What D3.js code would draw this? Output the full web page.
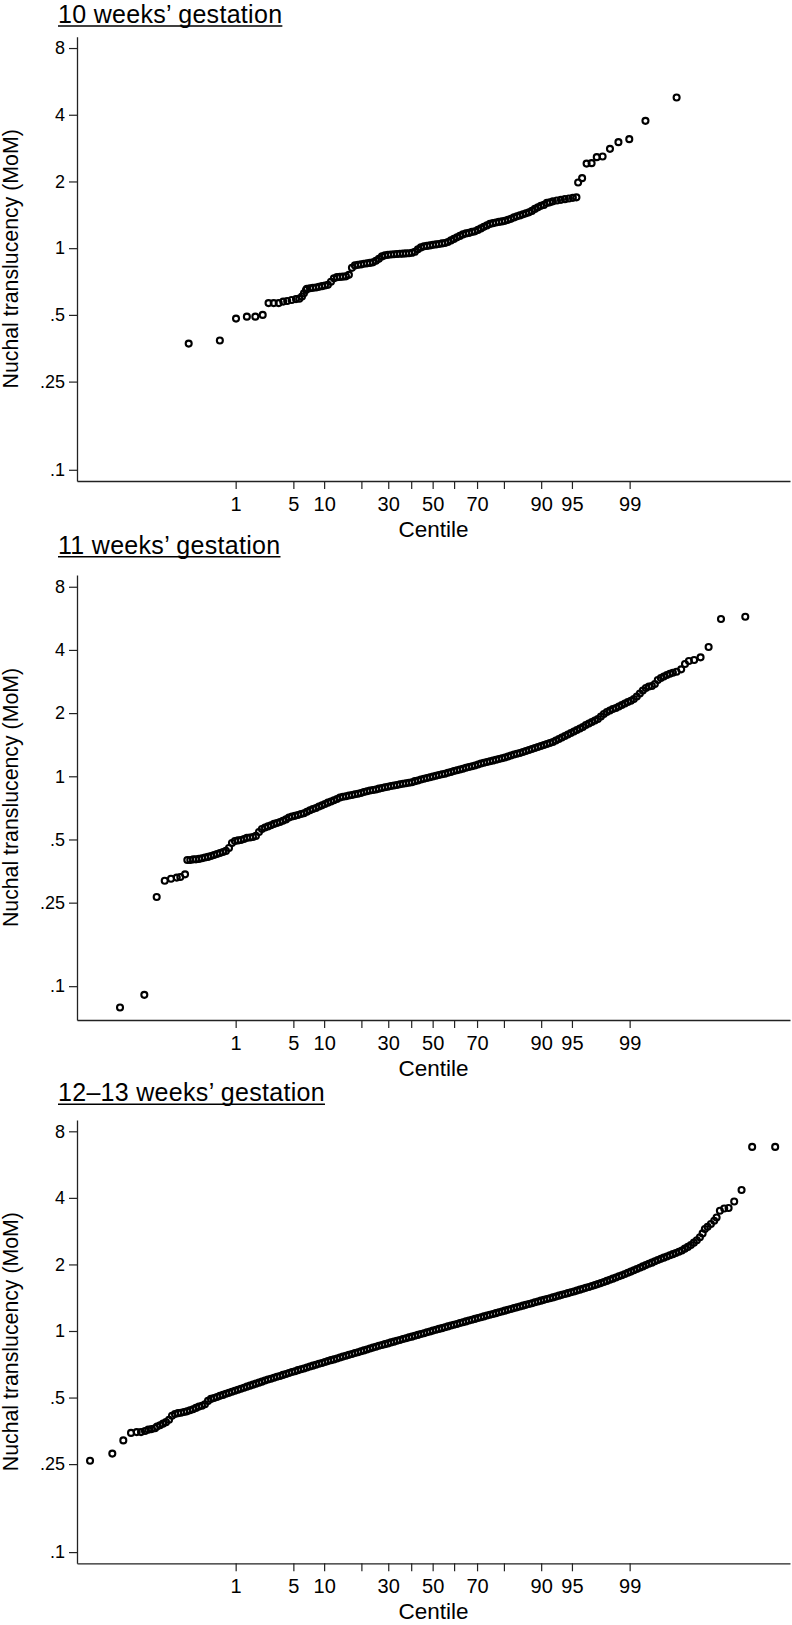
<!DOCTYPE html>
<html><head><meta charset="utf-8">
<script src="https://cdn.jsdelivr.net/npm/d3@7"></script>
<style>
body{margin:0;background:#fff}
svg{display:block}
text{font-family:"Liberation Sans",Arial,Helvetica,sans-serif;fill:#000}
</style>
</head><body>
<svg id="chart" width="792" height="1625"></svg>
<script>
// ---------- data ----------
const panelTitles = ["10 weeks\u2019 gestation", "11 weeks\u2019 gestation", "12\u201313 weeks\u2019 gestation"];
const centileTicks = [1, 5, 10, 20, 30, 40, 50, 60, 70, 80, 90, 95, 99];
const centileLabels = ["1", "5", "10", "", "30", "", "50", "", "70", "", "90", "95", "99"];
const momTicks = [0.1, 0.25, 0.5, 1, 2, 4, 8];
const momLabels = [".1", ".25", ".5", "1", "2", "4", "8"];

// 10 weeks: normal score (x) and NT MoM (y)
const wk10Score = [-2.881,-2.513,-2.322,-2.194,-2.094,-2.007,-1.938,-1.877,-1.818,-1.765,-1.718,-1.665,-1.614,-1.575,-1.543,-1.520,-1.496,
-1.485,-1.449,-1.414,
-1.378,-1.343,-1.307,-1.272,-1.237,-1.201,-1.166,-1.130,-1.095,-1.060,
-1.024,-0.989,-0.953,-0.918,-0.882,-0.847,-0.812,-0.776,-0.741,-0.705,
-0.670,-0.635,-0.599,-0.564,-0.528,-0.493,-0.457,-0.422,-0.387,-0.351,
-0.316,-0.280,-0.245,-0.210,-0.174,-0.139,-0.103,-0.068,-0.032,0.003,
0.039,0.074,0.110,0.145,0.180,0.216,0.251,0.287,0.322,0.357,
0.393,0.428,0.464,0.499,0.535,0.570,0.605,0.641,0.676,0.712,
0.747,0.782,0.818,0.853,0.889,0.924,0.960,0.995,1.030,1.066,
1.101,1.137,1.172,1.207,1.243,1.278,1.314,1.349,1.384,1.420,
1.468,1.515,1.562,1.609,1.656,1.698,1.718,1.765,1.818,1.877,1.938,2.007,2.094,2.194,2.322,2.513,2.881];
const wk10MoM = [0.371,0.383,0.481,0.491,0.491,0.500,0.565,0.565,0.565,0.574,0.578,0.584,0.589,0.592,0.605,0.626,0.648,
0.655,0.659,0.662,0.665,0.669,0.674,0.678,0.683,0.705,0.731,
0.740,0.742,0.744,0.746,0.758,0.815,0.836,0.841,0.845,0.850,
0.854,0.858,0.863,0.877,0.895,0.918,0.928,0.933,0.937,0.939,
0.941,0.943,0.945,0.947,0.949,0.953,0.963,0.988,1.008,1.019,
1.024,1.029,1.035,1.040,1.045,1.051,1.056,1.067,1.084,1.101,
1.119,1.136,1.154,1.166,1.172,1.184,1.191,1.209,1.228,1.248,
1.267,1.287,1.297,1.305,1.314,1.321,1.328,1.342,1.356,1.377,
1.392,1.406,1.421,1.436,1.451,1.473,1.504,1.528,1.552,1.568,
1.601,1.610,1.627,
1.640,1.652,1.664,1.675,1.687,1.696,1.978,2.070,2.408,2.419,2.575,2.591,2.806,3.009,3.104,3.755,4.783];

// 11 weeks
const wk11Score = [-3.692,-3.405,-3.259,-3.164,-3.090,-3.022,-2.980,-2.924,-2.897,-2.862,-2.826,
-2.795,-2.760,-2.724,-2.689,-2.653,-2.618,-2.582,-2.547,-2.512,-2.476,
-2.441,-2.405,-2.370,-2.335,-2.299,-2.264,-2.228,-2.193,-2.157,-2.122,
-2.087,-2.051,-2.016,-1.980,-1.945,-1.910,-1.874,-1.839,-1.803,-1.768,
-1.732,-1.697,-1.662,-1.626,-1.591,-1.555,-1.520,-1.485,-1.449,-1.414,
-1.378,-1.343,-1.307,-1.272,-1.237,-1.201,-1.166,-1.130,-1.095,-1.060,
-1.024,-0.989,-0.953,-0.918,-0.882,-0.847,-0.812,-0.776,-0.741,-0.705,
-0.670,-0.635,-0.599,-0.564,-0.528,-0.493,-0.457,-0.422,-0.387,-0.351,
-0.316,-0.280,-0.245,-0.210,-0.174,-0.139,-0.103,-0.068,-0.032,0.003,
0.039,0.074,0.110,0.145,0.180,0.216,0.251,0.287,0.322,0.357,
0.393,0.428,0.464,0.499,0.535,0.570,0.605,0.641,0.676,0.712,
0.747,0.782,0.818,0.853,0.889,0.924,0.960,0.995,1.030,1.066,
1.101,1.137,1.172,1.207,1.243,1.278,1.314,1.349,1.384,1.420,
1.455,1.491,1.526,1.562,1.597,1.632,1.668,1.703,1.739,1.774,
1.809,1.845,1.880,1.916,1.951,1.987,2.022,2.057,2.093,2.128,
2.164,2.199,2.234,2.270,2.305,2.341,2.376,2.411,2.447,2.482,
2.518,2.553,2.589,2.624,2.659,2.695,2.730,2.766,
2.801,2.837,2.880,2.935,2.980,3.026,3.088,3.164,3.259,3.405,3.692];
const wk11MoM = [0.0791,0.0909,0.266,0.318,0.325,0.329,0.331,0.341,0.399,0.399,0.402,
0.402,0.404,0.407,0.410,0.413,0.417,0.422,0.426,0.431,0.436,
0.441,0.455,0.481,0.492,0.495,0.497,0.503,0.509,0.511,0.514,
0.520,0.543,0.561,0.570,0.577,0.584,0.593,0.599,0.606,0.614,
0.623,0.636,0.643,0.648,0.654,0.661,0.667,0.678,0.689,0.699,
0.706,0.718,0.727,0.738,0.749,0.759,0.769,0.780,0.792,0.799,
0.804,0.810,0.815,0.821,0.826,0.833,0.842,0.848,0.856,0.860,
0.865,0.873,0.880,0.886,0.892,0.899,0.904,0.909,0.916,0.922,
0.927,0.931,0.937,0.948,0.955,0.965,0.973,0.982,0.989,0.998,
1.006,1.014,1.022,1.029,1.040,1.048,1.060,1.068,1.078,1.087,
1.098,1.107,1.116,1.126,1.138,1.151,1.161,1.170,1.179,1.189,
1.198,1.209,1.218,1.229,1.242,1.256,1.270,1.281,1.291,1.305,
1.320,1.334,1.349,1.364,1.379,1.394,1.409,1.425,1.441,1.457,
1.481,1.505,1.530,1.556,1.581,1.608,1.635,1.662,1.689,1.717,
1.755,1.784,1.814,1.844,1.875,1.927,1.981,2.024,2.058,2.092,
2.115,2.150,2.186,2.222,2.259,2.289,2.334,2.399,2.479,2.563,
2.633,2.678,2.692,2.751,2.876,2.938,2.988,3.038,
3.078,3.112,3.149,3.233,3.427,3.541,3.580,3.688,4.130,5.614,5.756];

// 12-13 weeks
const wk1213Score = [-4.046,-3.783,-3.653,-3.562,-3.495,-3.444,-3.397,-3.358,-3.318,-3.279,
-3.255,-3.220,-3.184,-3.149,-3.113,-3.078,-3.043,-3.007,-2.972,-2.936,-2.901,-2.866,-2.830,
-2.795,-2.760,-2.724,-2.689,-2.653,-2.618,-2.582,-2.547,-2.512,-2.476,
-2.441,-2.405,-2.370,-2.335,-2.299,-2.264,-2.228,-2.193,-2.157,-2.122,
-2.087,-2.051,-2.016,-1.980,-1.945,-1.910,-1.874,-1.839,-1.803,-1.768,
-1.732,-1.697,-1.662,-1.626,-1.591,-1.555,-1.520,-1.485,-1.449,-1.414,
-1.378,-1.343,-1.307,-1.272,-1.237,-1.201,-1.166,-1.130,-1.095,-1.060,
-1.024,-0.989,-0.953,-0.918,-0.882,-0.847,-0.812,-0.776,-0.741,-0.705,
-0.670,-0.635,-0.599,-0.564,-0.528,-0.493,-0.457,-0.422,-0.387,-0.351,
-0.316,-0.280,-0.245,-0.210,-0.174,-0.139,-0.103,-0.068,-0.032,0.003,
0.039,0.074,0.110,0.145,0.180,0.216,0.251,0.287,0.322,0.357,
0.393,0.428,0.464,0.499,0.535,0.570,0.605,0.641,0.676,0.712,
0.747,0.782,0.818,0.853,0.889,0.924,0.960,0.995,1.030,1.066,
1.101,1.137,1.172,1.207,1.243,1.278,1.314,1.349,1.384,1.420,
1.455,1.491,1.526,1.562,1.597,1.632,1.668,1.703,1.739,1.774,
1.809,1.845,1.880,1.916,1.951,1.987,2.022,2.057,2.093,2.128,
2.164,2.199,2.234,2.270,2.305,2.341,2.376,2.411,2.447,2.482,
2.518,2.553,2.589,2.624,2.659,2.695,2.730,2.766,
2.801,2.837,2.872,2.908,2.943,2.978,3.014,3.049,3.085,3.120,3.156,
3.188,3.215,3.247,3.286,3.325,3.353,3.392,3.443,3.495,3.561,3.648,3.773,4.045];
const wk1213MoM = [0.259,0.279,0.320,0.346,0.349,0.349,0.353,0.358,0.360,0.363,
0.370,0.375,0.381,0.387,0.397,0.414,0.421,0.425,0.427,0.430,0.433,0.438,0.443,0.449,0.455,0.459,0.466,0.483,
0.493,0.498,0.503,0.509,0.514,0.520,0.525,0.531,0.537,0.542,
0.548,0.554,0.560,0.566,0.572,0.578,0.584,0.590,0.597,0.603,
0.608,0.615,0.621,0.626,0.633,0.639,0.646,0.652,0.658,0.665,
0.671,0.677,0.684,0.691,0.697,0.704,0.711,0.717,0.724,0.731,
0.738,0.744,0.751,0.759,0.766,0.773,0.780,0.787,0.795,0.802,
0.810,0.817,0.825,0.833,0.841,0.849,0.857,0.864,0.872,0.879,
0.888,0.895,0.903,0.911,0.920,0.927,0.936,0.943,0.952,0.960,
0.969,0.977,0.987,0.995,1.004,1.013,1.022,1.030,1.040,1.049,
1.059,1.067,1.076,1.087,1.096,1.105,1.115,1.124,1.134,1.145,
1.154,1.164,1.175,1.184,1.194,1.204,1.216,1.226,1.236,1.248,
1.258,1.269,1.279,1.291,1.302,1.313,1.324,1.336,1.348,1.359,
1.372,1.383,1.395,1.407,1.419,1.431,1.445,1.457,1.470,1.483,
1.497,1.509,1.523,1.538,1.552,1.567,1.581,1.598,1.613,1.630,
1.647,1.666,1.685,1.704,1.725,1.746,1.768,1.788,1.810,1.833,
1.856,1.881,1.907,1.933,1.959,1.986,2.013,2.038,2.066,2.094,
2.120,2.146,2.173,2.201,2.226,2.252,2.282,2.313,2.357,2.401,
2.449,2.509,2.574,2.656,
2.763,2.892,2.962,3.046,3.154,3.263,3.499,3.580,3.600,3.853,4.340,6.800,6.800];

// ---------- helpers ----------
function probit(p){
  const a=[-3.969683028665376e+01,2.209460984245205e+02,-2.759285104469687e+02,1.383577518672690e+02,-3.066479806614716e+01,2.506628277459239e+00];
  const b=[-5.447609879822406e+01,1.615858368580409e+02,-1.556989798598866e+02,6.680131188771972e+01,-1.328068155288572e+01];
  const c=[-7.784894002430293e-03,-3.223964580411365e-01,-2.400758277161838e+00,-2.549732539343734e+00,4.374664141464968e+00,2.938163982698783e+00];
  const d=[7.784695709041462e-03,3.224671290700398e-01,2.445134137142996e+00,3.754408661907416e+00];
  const pl=0.02425; let q,r;
  if(p<pl){q=Math.sqrt(-2*Math.log(p));return (((((c[0]*q+c[1])*q+c[2])*q+c[3])*q+c[4])*q+c[5])/((((d[0]*q+d[1])*q+d[2])*q+d[3])*q+1);}
  if(p<=1-pl){q=p-0.5;r=q*q;return (((((a[0]*r+a[1])*r+a[2])*r+a[3])*r+a[4])*r+a[5])*q/(((((b[0]*r+b[1])*r+b[2])*r+b[3])*r+b[4])*r+1);}
  q=Math.sqrt(-2*Math.log(1-p));return -(((((c[0]*q+c[1])*q+c[2])*q+c[3])*q+c[4])*q+c[5])/((((d[0]*q+d[1])*q+d[2])*q+d[3])*q+1);
}

// ---------- layout ----------
const panels = [
  {title: panelTitles[0], score: wk10Score, mom: wk10MoM, top: 36.7, bottom: 481, yDomain: [0.089, 9.0], titleY: 22.8},
  {title: panelTitles[1], score: wk11Score, mom: wk11MoM, top: 575, bottom: 1020, yDomain: [0.069, 9.1], titleY: 553.5},
  {title: panelTitles[2], score: wk1213Score, mom: wk1213MoM, top: 1120, bottom: 1563.3, yDomain: [0.089, 9.0], titleY: 1101}
];
const left = 77, right = 790;
const svg = d3.select("#chart");

const x = d3.scaleLinear().domain([-4.2, 4.22]).range([left, right]);
const xTickVals = centileTicks.map(c => probit(c / 100));

panels.forEach(p => {
  const y = d3.scaleLog().domain(p.yDomain).range([p.bottom, p.top]);
  const g = svg.append("g");

  // title with underline
  const t = g.append("text").attr("x", 58).attr("y", p.titleY)
    .style("font-size", "25px").style("letter-spacing", "0.3px").text(p.title);
  const tw = t.node().getComputedTextLength();
  g.append("line").attr("x1", 58).attr("x2", 58 + tw)
    .attr("y1", p.titleY + 3.3).attr("y2", p.titleY + 3.3)
    .attr("stroke", "#000").attr("stroke-width", 1.5);

  // y axis
  const ya = g.append("g").attr("transform", `translate(${left},0)`)
    .call(d3.axisLeft(y).tickValues(momTicks).tickFormat((d, i) => momLabels[i]).tickSize(8).tickSizeOuter(0).tickPadding(4));
  ya.select(".domain").attr("stroke", "#222").attr("stroke-width", 1.3);
  ya.selectAll(".tick line").attr("stroke", "#222").attr("stroke-width", 1.2);
  ya.selectAll(".tick text").style("font-size", "18px").attr("font-family", null).attr("fill", "#000");

  // x axis
  const xa = g.append("g").attr("transform", `translate(0,${p.bottom})`)
    .call(d3.axisBottom(x).tickValues(xTickVals).tickFormat((d, i) => centileLabels[i]).tickSize(8).tickSizeOuter(0));
  xa.select(".domain").attr("stroke", "#222").attr("stroke-width", 1.3);
  xa.selectAll(".tick line").attr("stroke", "#222").attr("stroke-width", 1.2);
  xa.selectAll(".tick text").style("font-size", "20px").attr("font-family", null)
    .attr("fill", "#000").attr("y", 29.5).attr("dy", null);

  // axis titles
  g.append("text").attr("transform", `translate(18,${(p.top + p.bottom) / 2}) rotate(-90)`)
    .attr("text-anchor", "middle").style("font-size", "21.3px").text("Nuchal translucency (MoM)");
  g.append("text").attr("x", (left + right) / 2).attr("y", p.bottom + 55.5)
    .attr("text-anchor", "middle").style("font-size", "22.5px").text("Centile");

  // points
  const pts = p.score.map((s, i) => ({s, v: p.mom[i]}));
  g.append("g").selectAll("circle").data(pts).join("circle")
    .attr("cx", d => x(d.s)).attr("cy", d => y(d.v)).attr("r", 3.0)
    .attr("fill", "none").attr("stroke", "#000").attr("stroke-width", 2.1);
});
</script>
</body></html>
